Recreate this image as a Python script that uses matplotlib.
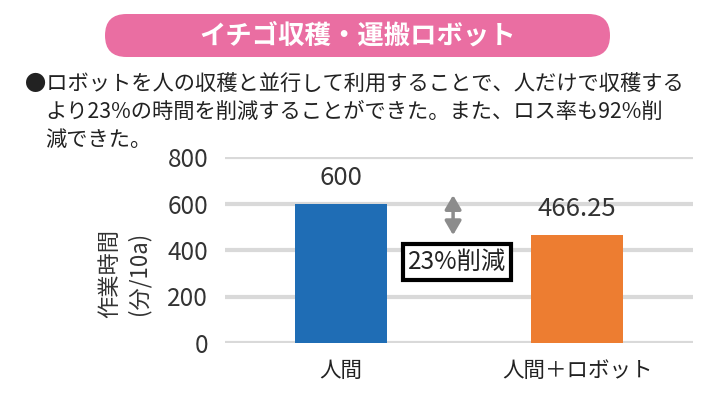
import matplotlib.pyplot as plt
from matplotlib.patches import FancyBboxPatch

plt.rcParams['font.family'] = ['Noto Sans CJK JP', 'DejaVu Sans']

categories = ["人間", "人間＋ロボット"]
values = [600, 466.25]
value_labels = ["600", "466.25"]
bar_colors = ["#1F6DB5", "#ED7D31"]
yticks = [0, 200, 400, 600, 800]

title = "イチゴ収穫・運搬ロボット"
body_lines = [
    "●ロボットを人の収穫と並行して利用することで、人だけで収穫する",
    "より23%の時間を削減することができた。また、ロス率も92%削",
    "減できた。",
]
reduction_label = "23%削減"

W, H = 722, 398
fig = plt.figure(figsize=(W / 100, H / 100), dpi=100)
fig.patch.set_facecolor("white")

# background layer in pixel coordinates (y down)
bg = fig.add_axes([0, 0, 1, 1])
bg.set_xlim(0, W)
bg.set_ylim(H, 0)
bg.axis("off")

pill = FancyBboxPatch((105, 14), 505, 43, boxstyle="round,pad=0,rounding_size=21.5",
                      facecolor="#EA6EA2", edgecolor="none")
bg.add_patch(pill)
bg.text(358, 36, title, color="white", fontsize=19, fontweight="bold",
        ha="center", va="center")

bg.text(25, 84, body_lines[0], fontsize=15.3, ha="left", va="center", color="#222222")
bg.text(45, 112, body_lines[1], fontsize=15.3, ha="left", va="center", color="#222222")
bg.text(45, 140, body_lines[2], fontsize=15.3, ha="left", va="center", color="#222222")

bg.text(110, 273, "作業時間", rotation=90, fontsize=16, ha="center", va="center", color="#333333")
bg.text(139, 273, "(分/10a)", rotation=90, fontsize=16, ha="center", va="center", color="#333333")

# chart axes
ax = fig.add_axes([225 / W, 1 - 343 / H, 468 / W, 186 / H])
x = range(len(categories))
ax.bar(x, values, width=0.39, color=bar_colors, zorder=3)
ax.set_ylim(0, 800)
ax.set_xlim(-0.49, 1.49)
ax.set_yticks(yticks)
ax.set_yticklabels([str(t) for t in yticks], fontsize=17.5, color="#333333")
ax.set_xticks(list(x))
ax.set_xticklabels(categories, fontsize=15.5, color="#222222")
ax.tick_params(length=0)
ax.tick_params(axis="y", pad=12)
ax.tick_params(axis="x", pad=12)
ax.yaxis.grid(True, color="#D9D9D9", lw=3, zorder=0)
ax.set_axisbelow(True)
for s in ax.spines.values():
    s.set_visible(False)
ax.patch.set_alpha(0)

for i, (v, lab) in enumerate(zip(values, value_labels)):
    ax.annotate(lab, (i, v), xytext=(0, 9), textcoords="offset points",
                ha="center", va="bottom", fontsize=18.5, color="#333333")

# double arrow + reduction box
arrow_x = 0.475
ax.annotate("", xy=(arrow_x, 636), xytext=(arrow_x, 464),
            arrowprops=dict(arrowstyle="<|-|>,head_length=0.6,head_width=0.35",
                            color="#8C8C8C", lw=2.5, mutation_scale=14,
                            shrinkA=0, shrinkB=0))
ax.text(0.49, 348, reduction_label, fontsize=17.5, ha="center", va="center", color="#222222",
        bbox=dict(boxstyle="square,pad=0.2", facecolor="white", edgecolor="black", lw=3),
        zorder=5)

fig.savefig("out.png", dpi=100)
